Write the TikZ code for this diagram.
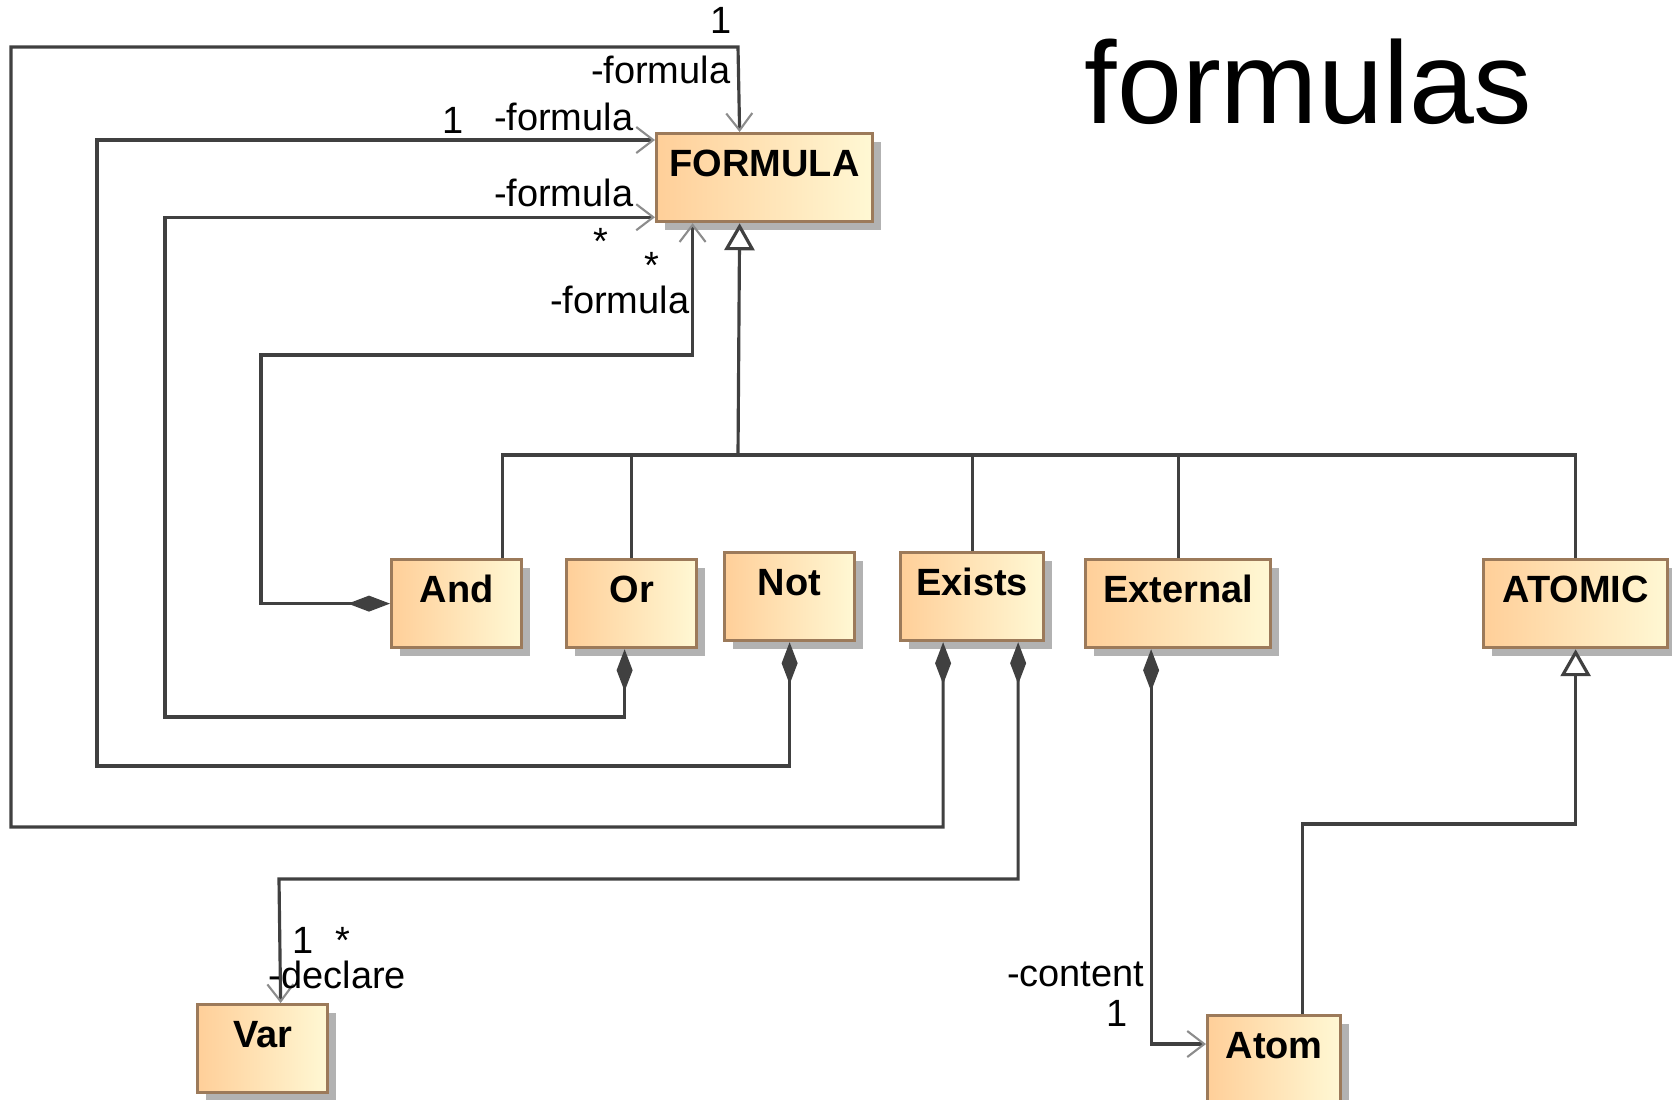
\documentclass[tikz,border=0pt]{standalone}
\usepackage{fontspec}
\setsansfont{Liberation Sans}
\usetikzlibrary{
	arrows.meta		% Diamond, Straight Barb and Triangle tips
	, shadows		% drop shadow under the classes
}
\definecolor{clsborder}{HTML}{9C7A5A}
\definecolor{clsleft}{HTML}{FFCF99}
\definecolor{clsright}{HTML}{FFF8D4}
\definecolor{wire}{HTML}{404040}

\begin{document}
\begin{tikzpicture}[
			x=0.01cm, y=-0.01cm,
			classbox/.style={
				draw=clsborder, line width=0.9pt,
				left color=clsleft, right color=clsright,
				drop shadow={shadow xshift=0.08cm, shadow yshift=-0.08cm, fill=black!30, opacity=1},
				font=\sffamily\bfseries\fontsize{10.8}{13}\selectfont,
				anchor=north west,
				text height=0.28cm, text depth=0.30cm,
				inner ysep=0.15cm, inner xsep=0.05cm
			},
			lbl/.style={
				font=\sffamily\fontsize{10.8}{13}\selectfont,
				inner sep=0pt
			},
			link/.style={
				draw=wire, line width=0.9pt
			},
			comp/.style={
				link,
				{Diamond[length=0.42cm, width=0.16cm]}-{Straight Barb[length=0.17cm, width=0.26cm, line width=0.6pt, color=black!45]}
			},
			gen/.style={
				link,
				-{Triangle[open, length=0.27cm, width=0.30cm, line width=0.9pt, fill=white]}
			}]

			\useasboundingbox (0,0) rectangle (1672,1099);

			%%% Classes
			\node [classbox, minimum width=2.16cm] (formula) at (655,132) {FORMULA};
			\node [classbox, minimum width=1.30cm] (and) at (390,558) {And};
			\node [classbox, minimum width=1.30cm] (or) at (565,558) {Or};
			\node [classbox, minimum width=1.30cm] (not) at (723,551) {Not};
			\node [classbox, minimum width=1.43cm] (exists) at (899,551) {Exists};
			\node [classbox, minimum width=1.85cm] (external) at (1084,558) {External};
			\node [classbox, minimum width=1.84cm] (atomic) at (1482,558) {ATOMIC};
			\node [classbox, minimum width=1.30cm] (var) at (196,1003) {Var};
			\node [classbox, minimum width=1.33cm] (atom) at (1206,1014) {Atom};

			\node [font=\sffamily\fontsize{33.2}{40}\selectfont, inner sep=0pt, anchor=base west] (title) at (1084,123) {formulas};

			%%% Generalisations
			\coordinate (bus) at (738,455);
			\draw [gen] (bus) -- ([xshift=-0.25cm]formula.south);
			\draw [link] ([xshift=0.46cm]and.north) |- (bus) -| (atomic.north);
			\foreach \cls in {or, exists, external} {
				% drop from the bus to each subclass
				\draw [link] (\cls.north) -- (\cls.north |- bus);
			};
			\draw [gen] ([xshift=0.28cm]atom.north) -- ++(0,-190) -| (atomic.south);

			%%% Compositions
			\draw [comp] (and.west) -| (261,355) -| ([xshift=-0.72cm]formula.south);
			\draw [comp] ([xshift=-0.07cm]or.south) |- (165,717) |- ([yshift=0.06cm]formula.south west);
			\draw [comp] (not.south) |- (97,766) |- ([yshift=-0.08cm]formula.north west);
			\draw [comp] ([xshift=-0.29cm]exists.south) |- (11,827) |- (738,47) -- ([xshift=-0.25cm]formula.north);
			\draw [comp] ([xshift=0.46cm]exists.south) |- (279,879) -- ([xshift=0.18cm]var.north);
			\draw [comp] ([xshift=-0.27cm]external.south) |- ([yshift=-0.30cm]atom.north west);

			%%% Roles and multiplicities
			\node [lbl] (existsmult) at (721,20) {1};
			\node [lbl, anchor=base east] (existsrole) at (731,83) {-formula};
			\node [lbl, anchor=base] (notmult) at (453,133) {1};
			\node [lbl, anchor=base east] (notrole) at (634,130) {-formula};
			\node [lbl, anchor=base east] (orrole) at (634,206) {-formula};
			\node [lbl] (ormult) at (601,241) {*};
			\node [lbl] (andmult) at (652,265) {*};
			\node [lbl, anchor=base east] (androle) at (690,313) {-formula};
			\node [lbl] (declmult) at (303,940) {1};
			\node [lbl] (declstar) at (343,940) {*};
			\node [lbl, anchor=base west] (declrole) at (268,988) {-declare};
			\node [lbl, anchor=base east] (controle) at (1145,986) {-content};
			\node [lbl, anchor=base] (contmult) at (1117,1026) {1};

		\end{tikzpicture}
\end{document}
